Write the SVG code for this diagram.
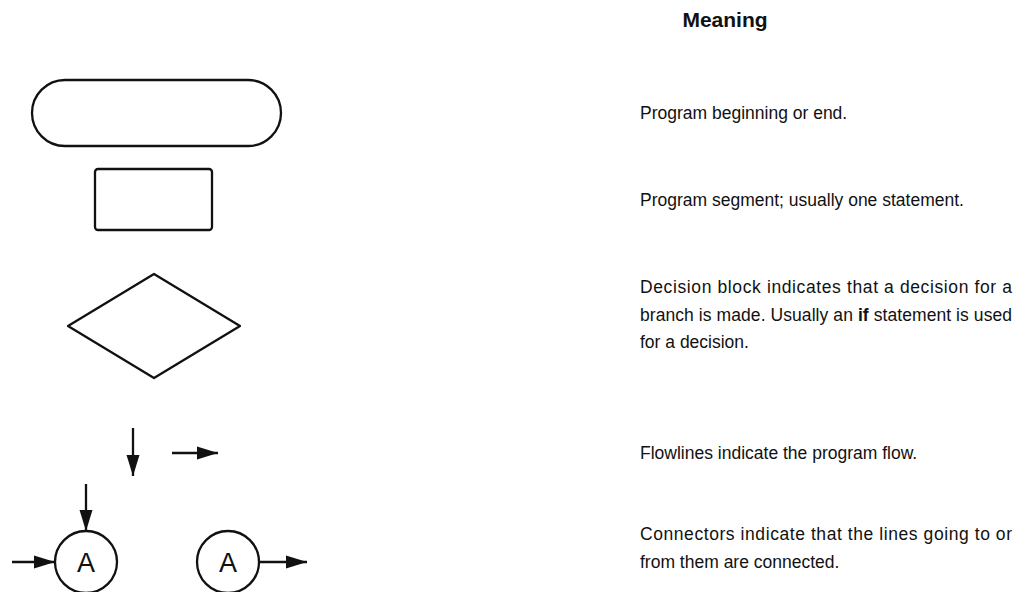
<svg xmlns="http://www.w3.org/2000/svg" width="1024" height="592" viewBox="0 0 1024 592">
<style>
.shape{fill:none;stroke:#111;stroke-width:2.3;stroke-linejoin:round}
.flow{fill:none;stroke:#111;stroke-width:2.3}
.txt{font-family:"Liberation Sans",Arial,sans-serif;font-size:17.5px;fill:#111}
.hdr{font-family:"Liberation Sans",Arial,sans-serif;font-size:21px;font-weight:bold;fill:#111}
.lbl{font-family:"Liberation Sans",Arial,sans-serif;font-size:27px;fill:#111}
</style>
<defs>
<marker id="ah" markerUnits="userSpaceOnUse" markerWidth="22" markerHeight="14" refX="21" refY="7" orient="auto">
<path d="M0,0.5 L21,7 L0,13.5 z" fill="#111"/>
</marker>
</defs>
<rect width="1024" height="592" fill="#fff"/>
<text class="hdr" x="725" y="27" text-anchor="middle">Meaning</text>
<g id="terminal">
<rect class="shape" x="32" y="80" width="249" height="66" rx="33" ry="33"/>
</g>
<g id="process">
<rect class="shape" x="95" y="169" width="117" height="61" rx="3" ry="3"/>
</g>
<g id="decision">
<polygon class="shape" points="154,274 240,326 154,378 68,326"/>
</g>
<g id="connector-in">
<circle class="shape" cx="86" cy="562" r="31"/>
<text class="lbl" x="86" y="572" text-anchor="middle">A</text>
</g>
<g id="connector-out">
<circle class="shape" cx="228" cy="562" r="31"/>
<text class="lbl" x="228" y="572" text-anchor="middle">A</text>
</g>
<g id="connectors">
<line class="flow" x1="133" y1="428" x2="133" y2="476" marker-end="url(#ah)"/>
<line class="flow" x1="172" y1="453" x2="218" y2="453" marker-end="url(#ah)"/>
<line class="flow" x1="86" y1="484" x2="86" y2="531" marker-end="url(#ah)"/>
<line class="flow" x1="12" y1="562" x2="55" y2="562" marker-end="url(#ah)"/>
<line class="flow" x1="259" y1="562" x2="307" y2="562" marker-end="url(#ah)"/>
</g>
<g id="meanings">
<text class="txt" x="640" y="119">Program beginning or end.</text>
<text class="txt" x="640" y="206">Program segment; usually one statement.</text>
<text class="txt" x="640" y="293" textLength="372" lengthAdjust="spacing">Decision block indicates that a decision for a</text>
<text class="txt" x="640" y="321" textLength="372" lengthAdjust="spacing">branch is made. Usually an <tspan font-weight="bold">if</tspan> statement is used</text>
<text class="txt" x="640" y="348">for a decision.</text>
<text class="txt" x="640" y="459">Flowlines indicate the program flow.</text>
<text class="txt" x="640" y="540" textLength="372" lengthAdjust="spacing">Connectors indicate that the lines going to or</text>
<text class="txt" x="640" y="568">from them are connected.</text>
</g>
</svg>
